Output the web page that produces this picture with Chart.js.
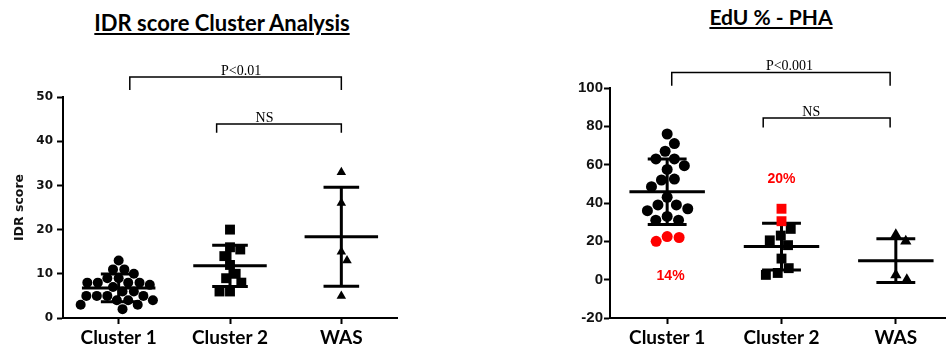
<!DOCTYPE html>
<html>
<head>
<meta charset="utf-8">
<script src="https://cdn.jsdelivr.net/npm/chart.js@4.4.0/dist/chart.umd.min.js"></script>
<style>
html, body { margin: 0; padding: 0; width: 946px; height: 358px; overflow: hidden; background: #fff; }
.box { position: absolute; top: 0; height: 358px; }
#boxIdr { left: 0; width: 420px; }
#boxEdu { left: 530px; width: 430px; }
.ttl { position: absolute; font-family: Lato, sans-serif; font-weight: 700; font-size: 21px; line-height: 21px;
       text-decoration: underline; text-decoration-thickness: 1.5px; text-underline-offset: 2px;
       white-space: nowrap; transform: translateX(-50%); color: #000; }
</style>
</head>
<body>
<div class="ttl" style="left:222px; top:12px; font-size:22px;">IDR score Cluster Analysis</div>
<div class="ttl" style="left:771px; top:6px;">EdU % - PHA</div>
<div class="box" id="boxIdr"><canvas id="idrChart"></canvas></div>
<div class="box" id="boxEdu"><canvas id="eduChart"></canvas></div>
<script>
const groups = ['Cluster 1', 'Cluster 2', 'WAS']

// IDR score
const idrCluster1 = [13, 11, 11, 10, 9, 9, 8, 8, 8, 8, 7.5, 7, 6, 6, 5, 5, 5, 5, 4, 4, 4, 3, 3, 2]
const idrCluster2 = [20, 16, 15.5, 14, 12, 10, 9, 8, 6, 6]
const idrWas = [33, 26, 15, 13, 5]
const idrMean = [6.8, 11.8, 18.4]
const idrSd = [3.15, 4.65, 11.2]

// EdU % - PHA
const eduCluster1 = [76, 71, 67, 63, 63, 59.5, 57.5, 52.5, 52, 48.5, 43, 39, 39, 37, 36, 33, 31, 31]
const eduCluster1Low = [22.5, 20, 22]
const eduCluster2 = [26.5, 23, 20.5, 18, 11, 6, 3.5, 2.5]
const eduCluster2High = [37, 30.5]
const eduWas = [23.5, 20, 2.5, 0]
const eduMean = [45.9, 17.3, 9.9]
const eduSd = [17.1, 12.2, 11.4]

// comparisons (x in group units, y in data units)
const idrBrackets = [
    { from: 1.1, to: 3, top: 54.5, leg: 51.6, label: 'P<0.01', at: 2.1 },
    { from: 1.88, to: 3, top: 43.9, leg: 41.9, label: 'NS', at: 2.31 }
]
const eduBrackets = [
    { from: 1.04, to: 2.95, top: 108.1, leg: 101.2, label: 'P<0.001', at: 2.07 },
    { from: 1.84, to: 2.95, top: 84.4, leg: 79.4, label: 'NS', at: 2.26 }
]
const eduPercent = [
    { text: '14%', x: 1.03, y: 1.7 },
    { text: '20%', x: 2.0, y: 52.7 }
]

const RED = '#ff0000'
const BLACK = '#000000'

// beeswarm: spreads points sideways so they don't overlap (pixel space)
function swarm(ys, d) {
    const placed = []
    const xs = new Array(ys.length)
    const order = ys.map((y, i) => i).sort((a, b) => ys[a] - ys[b])
    for (const i of order) {
        const y = ys[i]
        const cands = [0]
        placed.forEach(p => {
            const dy = Math.abs(p.y - y)
            if (dy < d) {
                const dx = Math.sqrt(d * d - dy * dy)
                cands.push(p.x + dx, p.x - dx)
            }
        })
        cands.sort((a, b) => Math.abs(a) - Math.abs(b))
        let x = 0
        for (const c of cands) {
            if (placed.every(p => (p.x - c) ** 2 + (p.y - y) ** 2 >= d * d - 0.01)) { x = c; break }
        }
        placed.push({ x, y })
        xs[i] = x
    }
    return xs
}

function spreadPoints(chart, d) {
    const { x, y } = chart.scales
    const unit = x.getPixelForValue(2) - x.getPixelForValue(1)
    chart.data.datasets.forEach((ds, g) => {
        const ys = ds.data.map(p => y.getPixelForValue(p.y))
        const offs = swarm(ys, d)
        ds.data.forEach((p, i) => { p.x = g + 1 + offs[i] / unit })
    })
    chart.update('none')
}

const meanSd = {
    id: 'meanSd',
    beforeDatasetsDraw(chart, args, opts) {
        const { ctx, scales: { x, y } } = chart
        const unit = x.getPixelForValue(2) - x.getPixelForValue(1)
        ctx.save()
        ctx.strokeStyle = BLACK
        ctx.lineWidth = opts.width
        opts.means.forEach((m, i) => {
            const cx = x.getPixelForValue(i + 1)
            const ym = y.getPixelForValue(m)
            const yh = y.getPixelForValue(m + opts.sds[i])
            const yl = y.getPixelForValue(m - opts.sds[i])
            ctx.beginPath()
            ctx.moveTo(cx - opts.half * unit, ym); ctx.lineTo(cx + opts.half * unit, ym)
            ctx.moveTo(cx, yh); ctx.lineTo(cx, yl)
            ctx.moveTo(cx - opts.cap * unit, yh); ctx.lineTo(cx + opts.cap * unit, yh)
            ctx.moveTo(cx - opts.cap * unit, yl); ctx.lineTo(cx + opts.cap * unit, yl)
            ctx.stroke()
        })
        ctx.restore()
    }
}

const compare = {
    id: 'compare',
    afterDraw(chart, args, opts) {
        const { ctx, scales: { x, y } } = chart
        ctx.save()
        ctx.strokeStyle = BLACK
        ctx.lineWidth = 1.5
        ctx.fillStyle = BLACK
        ctx.font = '14px "Liberation Serif", serif'
        ctx.textAlign = 'center'
        ctx.textBaseline = 'alphabetic'
        opts.brackets.forEach(b => {
            const x1 = x.getPixelForValue(b.from), x2 = x.getPixelForValue(b.to)
            const yt = y.getPixelForValue(b.top), yl = y.getPixelForValue(b.leg)
            ctx.beginPath()
            ctx.moveTo(x1, yl); ctx.lineTo(x1, yt); ctx.lineTo(x2, yt); ctx.lineTo(x2, yl)
            ctx.stroke()
            ctx.fillText(b.label, x.getPixelForValue(b.at), yt - 2)
        })
        ctx.fillStyle = RED
        ctx.font = 'bold 14px "Liberation Sans", Arial, sans-serif'
        ctx.textBaseline = 'middle';
        (opts.notes || []).forEach(n => {
            ctx.fillText(n.text, x.getPixelForValue(n.x), y.getPixelForValue(n.y))
        })
        ctx.restore()
    }
}

function pointsSet(values, colors, style, radius, g) {
    return {
        data: values.map(v => ({ x: g, y: v })),
        pointStyle: style,
        pointRadius: radius,
        pointHoverRadius: radius,
        pointBackgroundColor: colors,
        pointBorderColor: colors,
        pointBorderWidth: 0,
        showLine: false
    }
}

function xAxis() {
    return {
        type: 'linear',
        min: 0.5,
        max: 3.5,
        afterBuildTicks: a => { a.ticks = groups.map((g, i) => ({ value: i + 1 })) },
        afterFit: a => { a.height = 40 },
        ticks: {
            autoSkip: false,
            maxRotation: 0,
            padding: 2,
            color: BLACK,
            font: { family: 'Lato', size: 19, weight: 'bold' },
            callback: v => groups[v - 1]
        },
        grid: { drawOnChartArea: false, drawTicks: true, tickLength: 6, tickWidth: 2, tickColor: BLACK },
        border: { color: BLACK, width: 2 }
    }
}

const idrCtx = document.querySelector('#idrChart')
const idrChart = new Chart(idrCtx, {
    type: 'scatter',
    data: {
        datasets: [
            pointsSet(idrCluster1, BLACK, 'circle', 5, 1),
            pointsSet(idrCluster2, BLACK, 'rect', 7, 2),
            pointsSet(idrWas, BLACK, 'triangle', 5.5, 3)
        ]
    },
    options: {
        responsive: true,
        maintainAspectRatio: false,
        animation: false,
        events: [],
        layout: { padding: { top: 97, right: 23, left: 0, bottom: 0 } },
        scales: {
            x: xAxis(),
            y: {
                min: 0,
                max: 50,
                afterFit: a => { a.width = 63 },
                ticks: {
                    stepSize: 10,
                    padding: 4,
                    color: '#111',
                    font: { family: '"DejaVu Sans"', size: 12, weight: 'bold' }
                },
                title: {
                    display: true,
                    text: 'IDR score',
                    color: '#111',
                    padding: { top: 12, bottom: 0 },
                    font: { family: '"DejaVu Sans"', size: 12.5, weight: 'bold' }
                },
                grid: { drawOnChartArea: false, drawTicks: true, tickLength: 6, tickWidth: 2, tickColor: BLACK },
                border: { color: BLACK, width: 2 }
            }
        },
        plugins: {
            legend: { display: false },
            tooltip: { enabled: false },
            meanSd: { means: idrMean, sds: idrSd, half: 0.33, cap: 0.16, width: 3 },
            compare: { brackets: idrBrackets }
        }
    },
    plugins: [meanSd, compare]
})
spreadPoints(idrChart, 10.5)

const eduCtx = document.querySelector('#eduChart')
const eduChart = new Chart(eduCtx, {
    type: 'scatter',
    data: {
        datasets: [
            pointsSet(eduCluster1.concat(eduCluster1Low),
                eduCluster1.map(() => BLACK).concat(eduCluster1Low.map(() => RED)), 'circle', 5.5, 1),
            pointsSet(eduCluster2.concat(eduCluster2High),
                eduCluster2.map(() => BLACK).concat(eduCluster2High.map(() => RED)), 'rect', 7, 2),
            pointsSet(eduWas, BLACK, 'triangle', 6.5, 3)
        ]
    },
    options: {
        responsive: true,
        maintainAspectRatio: false,
        animation: false,
        events: [],
        layout: { padding: { top: 88, right: 6.5, left: 0, bottom: 0 } },
        scales: {
            x: xAxis(),
            y: {
                min: -20,
                max: 100,
                afterFit: a => { a.width = 80 },
                ticks: {
                    stepSize: 20,
                    padding: 1,
                    color: '#111',
                    font: { family: '"Liberation Sans", Arial', size: 15, weight: 'bold' }
                },
                grid: { drawOnChartArea: false, drawTicks: true, tickLength: 6, tickWidth: 2, tickColor: BLACK },
                border: { color: BLACK, width: 2 }
            }
        },
        plugins: {
            legend: { display: false },
            tooltip: { enabled: false },
            meanSd: { means: eduMean, sds: eduSd, half: 0.33, cap: 0.17, width: 3 },
            compare: { brackets: eduBrackets, notes: eduPercent }
        }
    },
    plugins: [meanSd, compare]
})
spreadPoints(eduChart, 12)
</script>
</body>
</html>
